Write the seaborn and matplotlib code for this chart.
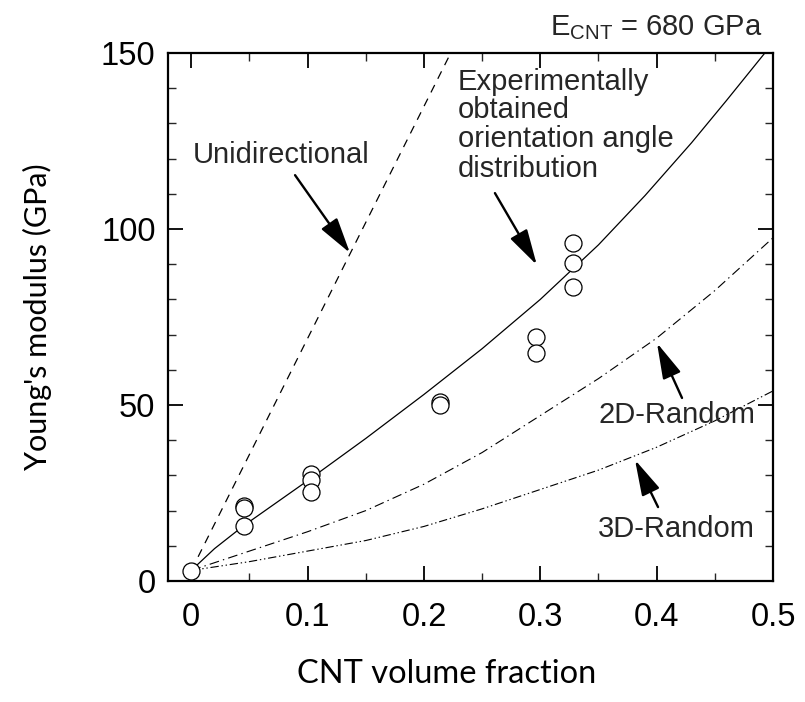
import matplotlib
matplotlib.use("Agg")
import matplotlib.pyplot as plt
import seaborn as sns
import pandas as pd
from matplotlib.ticker import MultipleLocator

# ---- data ----
x_ticks = [0, 0.1, 0.2, 0.3, 0.4, 0.5]
x_tick_labels = ["0", "0.1", "0.2", "0.3", "0.4", "0.5"]
y_ticks = [0, 50, 100, 150]
y_tick_labels = ["0", "50", "100", "150"]

exp_vf = [0, 0.045, 0.045, 0.045, 0.103, 0.103, 0.103, 0.214, 0.214,
          0.296, 0.296, 0.328, 0.328, 0.328]
exp_E = [2.9, 21.3, 20.6, 15.7, 30.3, 28.8, 25.3, 50.9, 50.0,
         69.4, 64.9, 96.1, 90.4, 83.6]

uni_vf = [0, 0.223]
uni_E = [3, 150]

orient_vf = [0, 0.02, 0.045, 0.1, 0.15, 0.2, 0.25, 0.3, 0.35, 0.39, 0.43, 0.46, 0.493]
orient_E = [3, 9.2, 15.7, 28.5, 40.5, 53, 66, 80, 95.5, 109.5, 124.5, 136.5, 150]

r2d_vf = [0, 0.05, 0.1, 0.15, 0.2, 0.25, 0.3, 0.35, 0.4, 0.45, 0.5]
r2d_E = [3, 8.5, 14, 20, 27.5, 36.5, 47, 57.5, 69, 82.5, 97.5]

r3d_vf = [0, 0.05, 0.1, 0.15, 0.2, 0.25, 0.3, 0.35, 0.4, 0.45, 0.5]
r3d_E = [3, 5.5, 8.5, 11.5, 15.5, 20.5, 26, 31.5, 38, 45.5, 54]

# ---- style ----
sns.set_theme(style="ticks")
plt.rcParams["font.family"] = ["Liberation Sans", "DejaVu Sans"]
plt.rcParams["mathtext.fontset"] = "custom"
plt.rcParams["mathtext.rm"] = "Liberation Sans"
plt.rcParams["mathtext.it"] = "Liberation Sans:italic"
plt.rcParams["lines.scale_dashes"] = False

fig = plt.figure(figsize=(8.05, 7.02), dpi=100)
ax = fig.add_axes([168 / 805, 1 - 581 / 702, (773 - 168) / 805, (581 - 53) / 702])

lw = 0.9
sns.lineplot(x=uni_vf, y=uni_E, ax=ax, color="black", lw=lw,
             linestyle=(0, (6, 5)), estimator=None, sort=False)
sns.lineplot(x=orient_vf, y=orient_E, ax=ax, color="black", lw=lw,
             linestyle="-", estimator=None, sort=False)
sns.lineplot(x=r2d_vf, y=r2d_E, ax=ax, color="black", lw=lw * 0.9,
             linestyle=(0, (7, 3, 1, 3)), estimator=None, sort=False)
sns.lineplot(x=r3d_vf, y=r3d_E, ax=ax, color="black", lw=lw * 0.9,
             linestyle=(0, (6, 2, 1, 2, 1, 2)), estimator=None, sort=False)

df = pd.DataFrame({"vf": exp_vf, "E": exp_E})
sns.scatterplot(data=df, x="vf", y="E", ax=ax, s=150, marker="o",
                facecolor="white", edgecolor="black", linewidth=0.9, zorder=5)

ax.set_xlim(-0.02, 0.5)
ax.set_ylim(0, 150)
ax.set_xticks(x_ticks)
ax.set_xticklabels(x_tick_labels)
ax.set_yticks(y_ticks)
ax.set_yticklabels(y_tick_labels)
ax.xaxis.set_minor_locator(MultipleLocator(0.05))
ax.yaxis.set_minor_locator(MultipleLocator(10))
ax.tick_params(which="major", direction="in", top=True, right=True,
               length=11, width=1.3, labelsize=23.5, colors="black")
ax.tick_params(axis="y", which="major", pad=9)
ax.tick_params(axis="x", which="major", pad=15)
ax.tick_params(which="minor", direction="in", top=True, right=True,
               length=5.5, width=1.0)
for s in ax.spines.values():
    s.set_linewidth(1.6)
    s.set_color("black")
    s.set_visible(True)

lab_font = ["Lato", "DejaVu Sans"]
ax.set_xlabel("CNT volume fraction", fontsize=23.5, family=lab_font, color="black")
ax.set_ylabel("Young's modulus (GPa)", fontsize=22, family=lab_font, color="black")
ax.xaxis.set_label_coords((447 - 168) / 605, (581 - 659) / 528)
ax.yaxis.set_label_coords((52 - 168) / 605, 0.5)

tfs = 21
ax.text(0.0015, 118.75, "Unidirectional", fontsize=tfs, va="baseline", ha="left")
for txt, yb in zip(["Experimentally", "obtained", "orientation angle", "distribution"],
                   [139.5, 131.5, 123.3, 114.8]):
    ax.text(0.2293, yb, txt, fontsize=tfs, va="baseline", ha="left")
ax.text(0.3496, 44.9, "2D-Random", fontsize=tfs, va="baseline", ha="left")
ax.text(0.3496, 12.5, "3D-Random", fontsize=tfs, va="baseline", ha="left")
ax.text(0.982, 1.034, r"E$_{\rm CNT}$ = 680 GPa", fontsize=21, va="baseline",
        ha="right", transform=ax.transAxes)

aprops = dict(arrowstyle="-|>,head_length=1.0,head_width=0.27", color="black",
              lw=1.7, shrinkA=0, shrinkB=0, mutation_scale=22)
for tail, tip in [((0.0892, 115.3), (0.1364, 93.2)),
                  ((0.261, 110.2), (0.297, 89.8)),
                  ((0.4218, 52.0), (0.4003, 67.6)),
                  ((0.4012, 21.0), (0.3814, 34.4))]:
    ax.annotate("", xy=tip, xytext=tail, arrowprops=aprops)

fig.savefig("out.png", dpi=100, facecolor="white")
